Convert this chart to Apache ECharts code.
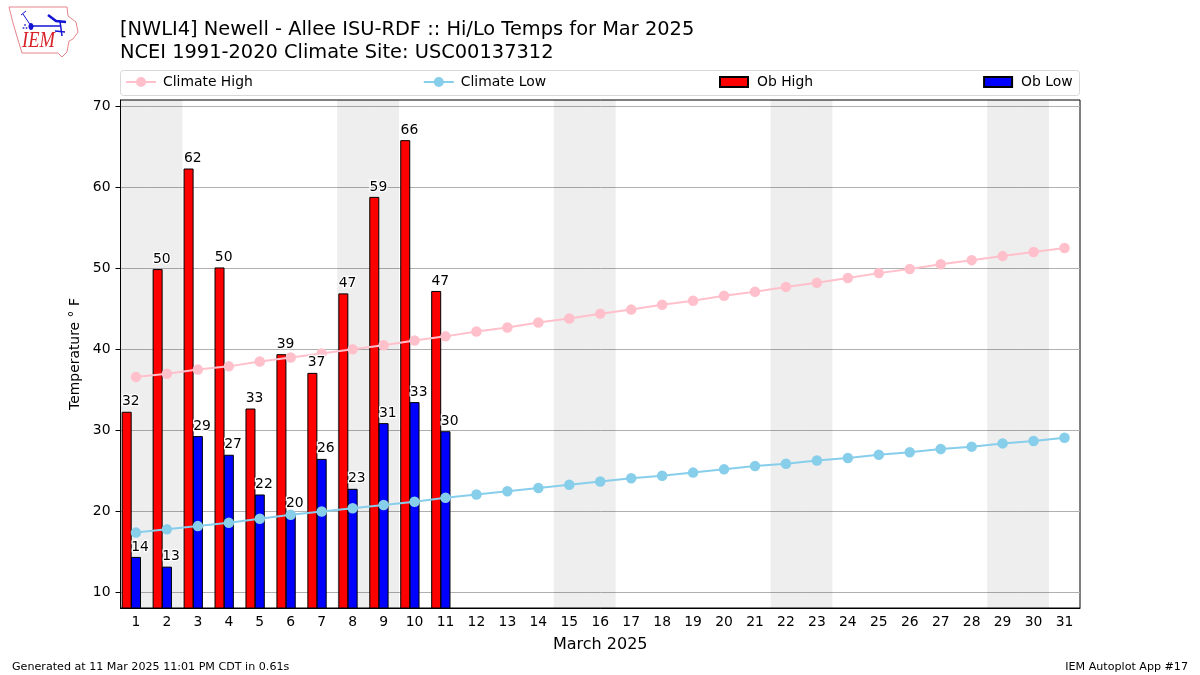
<!DOCTYPE html>
<html><head><meta charset="utf-8">
<style>html,body{margin:0;padding:0;background:#fff}#c{width:1200px;height:675px}</style>
<script src="https://cdn.jsdelivr.net/npm/echarts@6/dist/echarts.min.js"></script>
</head><body><div id="c"></div>
<script>
const days = Array.from({length:31},(_, i)=>String(i+1));
const obHigh = [32.3,49.9,62.3,50.1,32.7,39.4,37.1,46.9,58.8,65.8,47.2];
const obLow = [14.4,13.2,29.3,27,22.1,19.8,26.49,22.8,30.9,33.49,29.9];
const climateHigh = [36.6,37,37.5,37.9,38.5,39,39.5,40,40.5,41.1,41.6,42.2,42.7,43.3,43.8,44.4,44.9,45.5,46,46.6,47.1,47.7,48.2,48.8,49.4,49.9,50.5,51,51.5,52,52.5];
const climateLow = [17.4,17.8,18.2,18.6,19.1,19.6,20,20.4,20.8,21.2,21.7,22.1,22.5,22.9,23.3,23.7,24.1,24.4,24.8,25.2,25.6,25.9,26.3,26.6,27,27.3,27.7,28,28.4,28.7,29.1];
const weekendDays = [1,2,8,9,15,16,22,23,29,30];
const yTicks = [10,20,30,40,50,60,70];
const yMin = 8.1, yMax = 70.75;
const FONT = '"DejaVu Sans"';
const BAR_W = 10, BAR_GAP = '-7%';
const barLabel = {
  show:true, position:'top', align:'left', offset:[-4.7,2], color:'#000', fontSize:13.9, fontFamily:FONT,
  textBorderColor:'#fff', textBorderWidth:2.5, formatter:p=>Math.round(p.value)
};
const chart = echarts.init(document.getElementById('c'), null, {renderer:'canvas'});
chart.setOption({
  animation:false, backgroundColor:'#fff',
  title:{left:115, top:14, text:'[NWLI4] Newell - Allee ISU-RDF :: Hi/Lo Temps for Mar 2025\nNCEI 1991-2020 Climate Site: USC00137312',
    textStyle:{fontFamily:FONT,fontSize:19.4,fontWeight:'normal',color:'#000',lineHeight:22.5}},
  legend:[
    {left:125, top:75, padding:0, itemGap:170, itemWidth:30, itemHeight:12.5,
     textStyle:{fontFamily:FONT,fontSize:13.9,color:'#000',padding:[0,0,0,2]},
     data:['Climate High','Climate Low']},
    {left:719, top:75, padding:0, itemGap:170, itemWidth:28, itemHeight:10,
     textStyle:{fontFamily:FONT,fontSize:13.9,color:'#000',padding:[0,0,0,4]},
     data:[{name:'Ob High',icon:'rect'},{name:'Ob Low',icon:'rect'}]}
  ],
  grid:{left:120.5,right:120,top:100,bottom:67,show:true,borderColor:'#000',borderWidth:1,backgroundColor:'transparent'},
  xAxis:[
    {type:'category',data:days,name:'March 2025',nameLocation:'middle',nameGap:29,
     nameTextStyle:{fontFamily:FONT,fontSize:16,color:'#000'},
     axisLine:{lineStyle:{color:'#000'}},axisTick:{alignWithLabel:true,length:5,lineStyle:{color:'#000'}},
     axisLabel:{color:'#000',fontFamily:FONT,fontSize:13.9,margin:7,interval:0},splitLine:{show:false}},
    {type:'category',data:days,show:false},
    {type:'category',data:days,show:false}
  ],
  yAxis:[
    {type:'value',min:yMin,max:yMax,name:'Temperature ° F',nameLocation:'middle',nameGap:37,
     nameTextStyle:{fontFamily:FONT,fontSize:13.9,color:'#000'},
     axisLine:{show:true,lineStyle:{color:'#000'}},
     axisTick:{show:true,length:5,lineStyle:{color:'#000'},customValues:yTicks},
     axisLabel:{color:'#000',fontFamily:FONT,fontSize:13.9,margin:10,padding:[5,0,0,0],customValues:yTicks},
     splitLine:{show:true,lineStyle:{color:'#b0b0b0',width:1}}},
    {type:'value',min:yMin,max:yMax,show:false,splitLine:{show:false}},
    {type:'value',min:yMin,max:yMax,show:false,splitLine:{show:false}}
  ],
  series:[
    {name:'Weekend',type:'bar',xAxisIndex:1,yAxisIndex:1,barWidth:'100%',z:0,silent:true,
     data:days.map(d=>weekendDays.includes(+d)?yMax:null),
     itemStyle:{color:'rgba(0,0,0,0.068)'}},
    {name:'Ob High',type:'bar',barWidth:BAR_W,barGap:BAR_GAP,data:obHigh,z:2,
     itemStyle:{color:'#ff0000',borderColor:'#000',borderWidth:1}},
    {name:'Ob Low',type:'bar',barWidth:BAR_W,barGap:BAR_GAP,data:obLow,z:2,
     itemStyle:{color:'#0000ff',borderColor:'#000',borderWidth:1}},
    {name:'Spacer',type:'bar',barWidth:BAR_W,barGap:BAR_GAP,data:[],z:2},
    {name:'Climate High',type:'line',data:climateHigh,z:3,symbol:'circle',symbolSize:10.5,showSymbol:true,
     lineStyle:{color:'#ffc0cb',width:2},itemStyle:{color:'#ffc0cb'}},
    {name:'Climate Low',type:'line',data:climateLow,z:3,symbol:'circle',symbolSize:10.5,showSymbol:true,
     lineStyle:{color:'#87ceeb',width:2},itemStyle:{color:'#87ceeb'}},
    {name:'High Labels',type:'bar',xAxisIndex:2,yAxisIndex:2,barWidth:BAR_W,barGap:BAR_GAP,data:obHigh,z:5,silent:true,
     itemStyle:{color:'transparent'},label:barLabel},
    {name:'Low Labels',type:'bar',xAxisIndex:2,yAxisIndex:2,barWidth:BAR_W,barGap:BAR_GAP,data:obLow,z:5,silent:true,
     itemStyle:{color:'transparent'},label:barLabel},
    {name:'Label Spacer',type:'bar',xAxisIndex:2,yAxisIndex:2,barWidth:BAR_W,barGap:BAR_GAP,data:[],z:5,silent:true}
  ],
  graphic:[
    {type:'rect',shape:{x:120.5,y:70.5,width:959,height:25,r:3},style:{fill:'#fff',stroke:'#d8d8d8',lineWidth:1},z:-1},
    {type:'text',left:12,top:662,style:{text:'Generated at 11 Mar 2025 11:01 PM CDT in 0.61s',font:'11.12px "DejaVu Sans"',fill:'#000'}},
    {type:'text',right:12,top:662,style:{text:'IEM Autoplot App #17',font:'11.12px "DejaVu Sans"',fill:'#000',textAlign:'right'}},
    {type:'polygon',shape:{points:[[9,7],[67,7],[68,16],[76,22],[78,32],[73,39],[69,41],[67,52],[62,57],[58,53],[22,53],[18,40],[13,23]]},
     style:{fill:'#fff',stroke:'#e5858a',lineWidth:1}},
    {type:'polyline',shape:{points:[[31,26],[60,26]]},style:{stroke:'#1414d2',lineWidth:1.5,fill:null}},
    {type:'polyline',shape:{points:[[31,26],[23,14]]},style:{stroke:'#1414d2',lineWidth:1,fill:null}},
    {type:'polyline',shape:{points:[[21,15],[26,11]]},style:{stroke:'#1414d2',lineWidth:1,fill:null}},
    {type:'polyline',shape:{points:[[48,15],[56,21],[66,22]]},style:{stroke:'#1414d2',lineWidth:2.5,fill:null}},
    {type:'polyline',shape:{points:[[60,21],[62,36]]},style:{stroke:'#1414d2',lineWidth:1.5,fill:null}},
    {type:'polyline',shape:{points:[[55,31],[65,32]]},style:{stroke:'#1414d2',lineWidth:1.5,fill:null}},
    {type:'ellipse',shape:{cx:31,cy:26.5,rx:2.5,ry:3.5},style:{fill:'#1414d2'}},
    {type:'circle',shape:{cx:25,cy:25,r:1},style:{fill:'#4a4ad8'}},
    {type:'circle',shape:{cx:23.5,cy:28,r:1},style:{fill:'#4a4ad8'}},
    {type:'circle',shape:{cx:26.5,cy:28,r:1},style:{fill:'#4a4ad8'}},
    {type:'text',x:22,y:53,scaleY:1.25,style:{text:'IEM',font:'italic 18.5px "Liberation Serif"',fill:'#d8232a',verticalAlign:'bottom'}}
  ]
});
</script></body></html>
